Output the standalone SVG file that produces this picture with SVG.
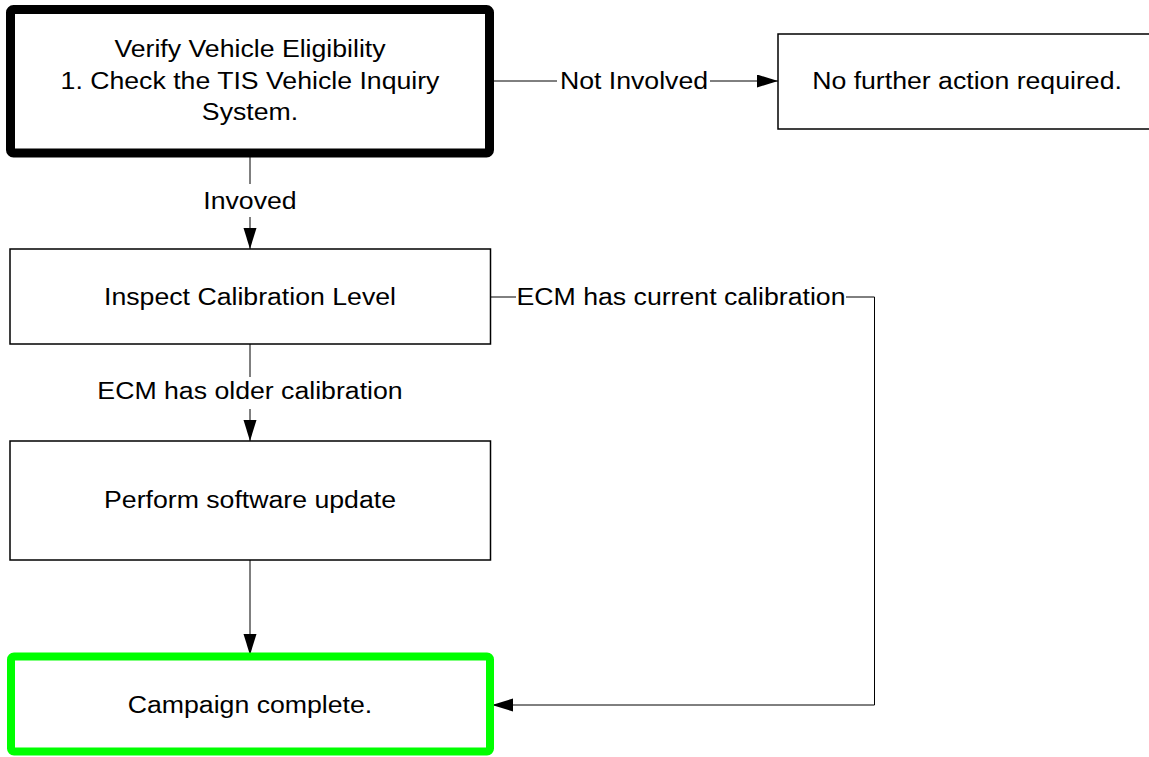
<svg xmlns="http://www.w3.org/2000/svg" width="1149" height="757" viewBox="0 0 1149 757">
<style>
  .box { fill: #ffffff; stroke: #000000; stroke-width: 1.5; }
  .thick { fill: #ffffff; stroke: #000000; stroke-width: 9; }
  .green { fill: #ffffff; stroke: #00ff00; stroke-width: 8; }
  .lbl { font-family: "Liberation Sans", Arial, sans-serif; font-size: 23px; fill: #000000; text-anchor: middle; }
  .conn { fill: none; stroke: #000000; stroke-width: 1; }
</style>
<defs>
  <marker id="arr" markerUnits="userSpaceOnUse" markerWidth="22" markerHeight="14" refX="21" refY="6.5" orient="auto">
    <path d="M0,0 L21,6.5 L0,13 Z" fill="#000000"/>
  </marker>
</defs>
<rect width="1149" height="757" fill="#ffffff"/>

<g id="connectors">
  <line class="conn" x1="494" y1="81" x2="557" y2="81"/>
  <line class="conn" x1="710" y1="81" x2="778" y2="81" marker-end="url(#arr)"/>
  <text class="lbl" transform="translate(634,89) scale(1.16,1)">Not Involved</text>

  <line class="conn" x1="250" y1="157" x2="250" y2="184"/>
  <line class="conn" x1="250" y1="217" x2="250" y2="249" marker-end="url(#arr)"/>
  <text class="lbl" transform="translate(250,209) scale(1.16,1)">Invoved</text>

  <line class="conn" x1="250" y1="344" x2="250" y2="377"/>
  <line class="conn" x1="250" y1="409" x2="250" y2="441" marker-end="url(#arr)"/>
  <text class="lbl" transform="translate(250,399) scale(1.16,1)">ECM has older calibration</text>

  <line class="conn" x1="250" y1="560" x2="250" y2="655" marker-end="url(#arr)"/>

  <line class="conn" x1="490.5" y1="297" x2="516" y2="297"/>
  <polyline class="conn" points="846,297 874.5,297 874.5,705 492,705" marker-end="url(#arr)"/>
  <text class="lbl" transform="translate(681,305) scale(1.16,1)">ECM has current calibration</text>
</g>

<g id="node-verify">
  <rect class="thick" x="10.5" y="9.5" width="479" height="143.5" rx="3"/>
  <text class="lbl" transform="translate(250,57) scale(1.16,1)">Verify Vehicle Eligibility</text>
  <text class="lbl" transform="translate(250,88.5) scale(1.16,1)">1. Check the TIS Vehicle Inquiry</text>
  <text class="lbl" transform="translate(250,120) scale(1.16,1)">System.</text>
</g>

<g id="node-nofurther">
  <rect class="box" x="778" y="34" width="380" height="95"/>
  <text class="lbl" transform="translate(967,89) scale(1.16,1)">No further action required.</text>
</g>

<g id="node-inspect">
  <rect class="box" x="10" y="249" width="480.5" height="95"/>
  <text class="lbl" transform="translate(250,305) scale(1.16,1)">Inspect Calibration Level</text>
</g>

<g id="node-update">
  <rect class="box" x="10" y="441" width="480.5" height="119"/>
  <text class="lbl" transform="translate(250,508) scale(1.16,1)">Perform software update</text>
</g>

<g id="node-complete">
  <rect class="green" x="11" y="656.5" width="479" height="95" rx="3"/>
  <text class="lbl" transform="translate(250,713) scale(1.16,1)">Campaign complete.</text>
</g>
</svg>
